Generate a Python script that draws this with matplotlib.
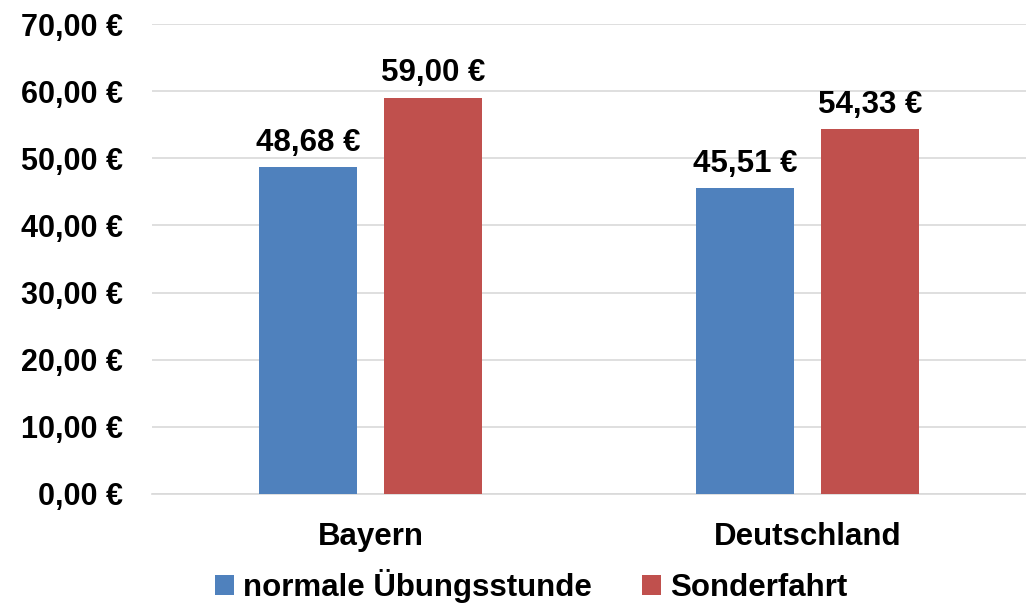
import numpy as np
import matplotlib
matplotlib.use('Agg')
import matplotlib.pyplot as plt

plt.rcParams['font.family'] = ['Liberation Sans', 'DejaVu Sans']
plt.rcParams['font.weight'] = 'bold'

categories = ['Bayern', 'Deutschland']
normal = [48.68, 45.51]
sonder = [59.00, 54.33]
series_names = ['normale Übungsstunde', 'Sonderfahrt']
colors = ['#4F81BD', '#C0504D']

def euro(v):
    return f'{v:,.2f} €'.replace(',', 'X').replace('.', ',').replace('X', '.')

fig = plt.figure(figsize=(10.26, 6.08), dpi=100)
ax = fig.add_axes([0.148, 0.1875, 0.852, 0.773])

x = np.arange(len(categories))
w = 0.224
off = 0.143
b1 = ax.bar(x - off, normal, w, color=colors[0], label=series_names[0], zorder=3)
b2 = ax.bar(x + off, sonder, w, color=colors[1], label=series_names[1], zorder=3)

for bars, vals in [(b1, normal), (b2, sonder)]:
    for r, v in zip(bars, vals):
        ax.text(r.get_x() + r.get_width() / 2, v + 1.4, euro(v),
                ha='center', va='bottom', fontsize=22.5, fontweight='bold')

ax.set_xlim(-0.5, 1.5)
ax.set_ylim(0, 70)
ax.set_yticks(np.arange(0, 71, 10))
ax.set_yticklabels([euro(v) for v in np.arange(0, 71, 10)])
ax.set_xticks(x)
ax.set_xticklabels(categories)
ax.tick_params(axis='both', length=0, labelsize=22)
ax.tick_params(axis='x', labelsize=22.5)
ax.tick_params(axis='y', pad=21)
ax.tick_params(axis='x', pad=20)
ax.grid(axis='y', color='#D9D9D9', linewidth=1.2, zorder=0)
for s in ['top', 'right', 'left']:
    ax.spines[s].set_visible(False)
ax.spines['bottom'].set_color('#D9D9D9')
ax.spines['bottom'].set_linewidth(1.2)

fig.legend(loc='lower center', bbox_to_anchor=(0.518, -0.038), ncol=2, frameon=False,
           fontsize=22.5, handlelength=0.6, handleheight=0.6, columnspacing=1.6,
           handletextpad=0.3)

fig.savefig('out.png', dpi=100)
